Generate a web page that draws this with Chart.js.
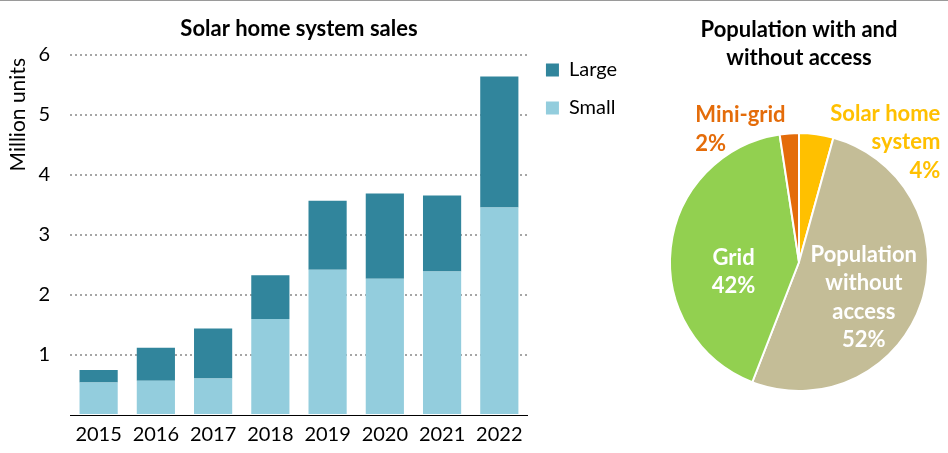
<!DOCTYPE html>
<html>
<head>
<meta charset="utf-8">
<script src="https://cdn.jsdelivr.net/npm/chart.js@4.4.1/dist/chart.umd.min.js"></script>
<style>
  html, body { margin: 0; padding: 0; background: #fff; }
  body { width: 948px; height: 453px; position: relative; overflow: hidden; }
  #topline { position: absolute; left: 0; top: 0; width: 948px; height: 1px; background: #9a9a9a; z-index: 5; }
  #barWrap { position: absolute; left: 0; top: 0; width: 627px; height: 453px; }
  #pieWrap { position: absolute; left: 630px; top: 0; width: 318px; height: 453px; }
</style>
</head>
<body>
<div id="topline"></div>
<div id="barWrap"><canvas id="bar" width="627" height="453"></canvas></div>
<div id="pieWrap"><canvas id="pie" width="318" height="453"></canvas></div>
<script>
// ---- Data ----
const years = ['2015', '2016', '2017', '2018', '2019', '2020', '2021', '2022'];
const smallSales = [0.54, 0.57, 0.61, 1.60, 2.42, 2.27, 2.39, 3.46];
const largeSales = [0.21, 0.55, 0.83, 0.73, 1.15, 1.42, 1.27, 2.18];
const yTicks = [0, 1, 2, 3, 4, 5, 6];
const yAxisTitle = 'Million units';

const accessLabels = ['Solar home system', 'Population without access', 'Grid', 'Mini-grid'];
const accessShares = [4.3, 51.6, 41.7, 2.4];

const FONT = 'Lato, "Open Sans", "Liberation Sans", sans-serif';
Chart.defaults.font.family = FONT;
Chart.defaults.color = '#000';
Chart.defaults.animation = false;

// y-axis title drawn near the top of the axis
const yTitlePlugin = {
  id: 'yTitleTop',
  afterDraw(chart, args, opts) {
    const ctx = chart.ctx;
    ctx.save();
    ctx.translate(opts.x, chart.chartArea.top + opts.offset);
    ctx.rotate(-Math.PI / 2);
    ctx.font = opts.size + 'px ' + FONT;
    ctx.fillStyle = '#000';
    ctx.textAlign = 'right';
    ctx.textBaseline = 'middle';
    ctx.fillText(opts.text, 0, 0);
    ctx.restore();
  }
};

// ---- Bar chart ----
new Chart(document.getElementById('bar'), {
  type: 'bar',
  data: {
    labels: years,
    datasets: [
      { label: 'Small', data: smallSales, backgroundColor: '#93cddd', stack: 's' },
      { label: 'Large', data: largeSales, backgroundColor: '#31859c', stack: 's' }
    ]
  },
  options: {
    responsive: false,
    animation: false,
    layout: { padding: 0 },
    datasets: { bar: { categoryPercentage: 1.0, barPercentage: 0.667 } },
    scales: {
      x: {
        stacked: true,
        grid: { display: false, drawTicks: false },
        border: { display: true, color: '#000', width: 1 },
        ticks: { font: { size: 20 }, padding: 8, color: '#000', maxRotation: 0 },
        afterFit: s => { s.height = 38; }
      },
      y: {
        stacked: true,
        min: yTicks[0], max: yTicks[yTicks.length - 1],
        afterBuildTicks: s => { s.ticks = yTicks.map(v => ({ value: v })); },
        grid: {
          drawTicks: false,
          color: c => (c.tick && c.tick.value === 0) ? 'rgba(0,0,0,0)' : '#a6a6a6',
          lineWidth: 2
        },
        border: { display: false, dash: [2, 3] },
        ticks: {
          font: { size: 20 }, padding: 20, color: '#000',
          callback: v => (v === 0 ? '' : String(v))
        },
        afterFit: s => { s.width = 70; }
      }
    },
    plugins: {
      title: {
        display: true, text: 'Solar home system sales', fullSize: false,
        font: { size: 22, weight: 'bold' }, color: '#000',
        padding: { top: 16, bottom: 12.6 }
      },
      legend: {
        display: true, position: 'right', align: 'start', fullSize: true, reverse: true,
        title: { display: true, text: '', font: { size: 10, lineHeight: 1 }, padding: { top: 32, bottom: 0 } },
        labels: { boxWidth: 13, boxHeight: 13, padding: 18, font: { size: 20 }, color: '#000' }
      },
      tooltip: { enabled: false },
      yTitleTop: { text: yAxisTitle, x: 18, offset: 3, size: 21 }
    }
  },
  plugins: [yTitlePlugin]
});

// ---- Pie chart ----
const pieLabelPlugin = {
  id: 'pieLabels',
  afterDatasetsDraw(chart, args, opts) {
    const ctx = chart.ctx;
    const meta = chart.getDatasetMeta(0);
    const ds = chart.data.datasets[0];
    const total = ds.data.reduce((a, b) => a + b, 0);
    meta.data.forEach((arc, i) => {
      const cfg = opts.items[i];
      const p = arc.getProps(['x', 'y', 'startAngle', 'endAngle', 'outerRadius'], true);
      const mid = (p.startAngle + p.endAngle) / 2;
      const ax = p.x + Math.cos(mid) * p.outerRadius * cfg.r + cfg.dx;
      const ay = p.y + Math.sin(mid) * p.outerRadius * cfg.r + cfg.dy;
      const pct = Math.round(ds.data[i] / total * 100) + '%';
      const lines = cfg.lines.concat([pct]);
      ctx.save();
      ctx.font = 'bold 22px ' + FONT;
      ctx.fillStyle = cfg.color;
      ctx.textAlign = cfg.align;
      ctx.textBaseline = 'middle';
      const lh = 28.5;
      const y0 = ay - (lines.length - 1) * lh / 2;
      lines.forEach((t, k) => ctx.fillText(t, ax, y0 + k * lh));
      ctx.restore();
    });
  }
};

new Chart(document.getElementById('pie'), {
  type: 'pie',
  data: {
    labels: accessLabels,
    datasets: [{
      data: accessShares,
      backgroundColor: ['#ffc000', '#c4bd97', '#92d050', '#e46c0a'],
      borderColor: '#ffffff',
      borderWidth: 2
    }]
  },
  options: {
    responsive: false,
    animation: false,
    layout: { padding: { left: 39, right: 19, top: 0, bottom: 61 } },
    plugins: {
      legend: { display: false },
      tooltip: { enabled: false },
      title: {
        display: true, text: ['Population with and', 'without access'],
        font: { size: 22, weight: 'bold', lineHeight: 1.273 }, color: '#000',
        padding: { top: 16, bottom: 60 }
      },
      pieLabels: {
        items: [
          { lines: ['Solar home', 'system'], color: '#ffc000', align: 'right', r: 1.0, dx: 124, dy: 8 },
          { lines: ['Population', 'without', 'access'], color: '#ffffff', align: 'center', r: 0.57, dx: -5, dy: 12 },
          { lines: ['Grid'], color: '#ffffff', align: 'center', r: 0.51, dx: 0, dy: 17 },
          { lines: ['Mini-grid'], color: '#e46c0a', align: 'left', r: 1.0, dx: -94, dy: -4 }
        ]
      }
    }
  },
  plugins: [pieLabelPlugin]
});
</script>
</body>
</html>
